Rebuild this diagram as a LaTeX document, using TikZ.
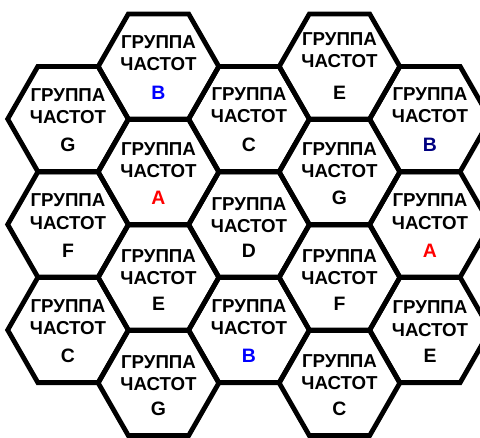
\documentclass[tikz,border=0pt]{standalone}
\usepackage{fontspec}
\setmainfont{Liberation Sans}
\usetikzlibrary{positioning}
\definecolor{grpA}{HTML}{FF0000}
\definecolor{grpB}{HTML}{0000FF}
\definecolor{grpBfonce}{HTML}{000080}
\tikzset{
  cellule/.style={draw=black, line width=0.12cm, line join=miter},
  etiq/.style={font=\bfseries\fontsize{13.3pt}{16pt}\selectfont, align=center, inner sep=0pt, anchor=south},
  lettre/.style={font=\bfseries\fontsize{13.8pt}{16pt}\selectfont, inner sep=0pt, anchor=base, text=#1},
}
\begin{document}
\begin{tikzpicture}[x=0.025cm, y=-0.025cm]
   \fill[white] (0,0) rectangle (480,437);
   \useasboundingbox (0,0) rectangle (480,437);
   % x / y / decalage du texte / groupe / couleur
   \foreach \x/\y/\dy/\l/\c [count=\i] in {
       68/119/5/G/black, 68/224.5/5/F/black, 68/330/5/C/black,
       158.5/66.5/4.5/B/grpB, 158.5/172/6/A/grpA, 158.5/277.5/7.5/E/black, 158.5/383/8/G/black,
       249/119/4/C/black, 249/224.5/8.5/D/black, 249/330/5/B/grpB,
       339.5/66.5/1.5/E/black, 339.5/172/6/G/black, 339.5/277.5/7.5/F/black, 339.5/383/7/C/black,
       430/119/4/B/grpBfonce, 430/224.5/5/A/grpA, 430/330/6.5/E/black}{
     \coordinate (cell\i) at (\x,\y);
     \draw[cellule] (\x-60.3,\y) -- ++(30.15,-52.6) -- ++(60.3,0) -- ++(30.15,52.6)
                    -- ++(-30.15,52.6) -- ++(-60.3,0) -- cycle;
     \node[etiq] (txt\i) at (\x,\y+\dy) {ГРУППА\\ЧАСТОТ};
     \node[lettre=\c] (grp\i) at (\x,\y+32.5) {\l};
   }
\end{tikzpicture}
\end{document}
